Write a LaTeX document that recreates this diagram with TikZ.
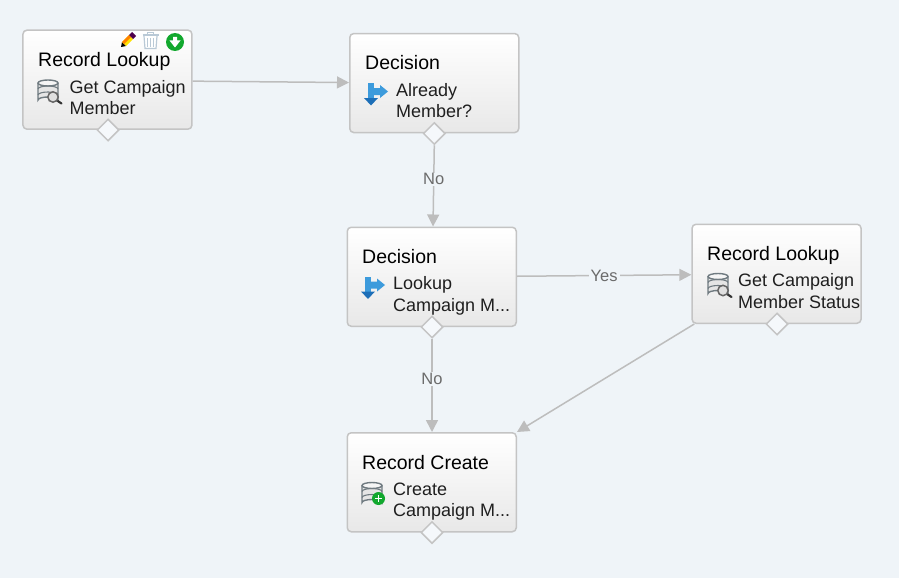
\documentclass[tikz,border=0pt]{standalone}
\usepackage{fontspec}
\setmainfont{Liberation Sans}
\usetikzlibrary{arrows.meta,shapes.geometric,calc}
\definecolor{pagebg}{HTML}{EFF4F8}
\definecolor{edgegray}{HTML}{BDBDBD}
\definecolor{boxline}{HTML}{C4C4C4}
\definecolor{blueA}{HTML}{3D9BDC}
\definecolor{blueB}{HTML}{1D6FB8}
\definecolor{greenA}{HTML}{12A82E}
\definecolor{dbgray}{HTML}{6F7A80}
\definecolor{trashc}{HTML}{B9C9D6}
\tikzset{
  card/.style={draw=boxline,line width=1.5pt,rounded corners=4pt,top color=white,bottom color=black!9,minimum width=169pt,minimum height=99pt,inner sep=0pt,anchor=north west},
  port/.style={diamond,draw=boxline,line width=1.5pt,fill=pagebg!60!white,minimum width=22pt,minimum height=22pt,inner sep=0pt,aspect=1},
  link/.style={draw=edgegray,line width=1.5pt,-{Triangle[length=12pt,width=12pt]}},
  lab/.style={fill=pagebg,text=black!58,font=\fontsize{16.5}{18}\selectfont,inner xsep=2pt,inner ysep=1pt},
  cardhead/.style={anchor=base west,inner sep=0pt,font=\fontsize{19.5}{21}\selectfont},
  cardtext/.style={anchor=base west,inner sep=0pt,font=\fontsize{18}{21}\selectfont,text=black!88},
}
\newcommand{\dbicon}[1]{%
  \begin{scope}[shift={(#1)}]
    \draw[dbgray,line width=1.4pt,fill=black!10] (-10,-8.5) -- (-10,8.5) arc[x radius=10,y radius=3,start angle=180,end angle=360] -- (10,-8.5);
    \draw[dbgray,line width=1.4pt,fill=black!4] (0,-8.5) ellipse[x radius=10,y radius=3];
    \draw[dbgray,line width=1.1pt] (-10,-2.5) arc[x radius=10,y radius=3,start angle=180,end angle=360];
    \draw[dbgray,line width=1.1pt] (-10,3.5) arc[x radius=10,y radius=3,start angle=180,end angle=360];
  \end{scope}}
\newcommand{\lensicon}[1]{%
  \begin{scope}[shift={(#1)}]
    \draw[black!80,line width=2.2pt,line cap=round] (4,3.5) -- (8.5,6.5);
    \draw[black!60,line width=1.5pt,fill=black!12] (0,0) circle[radius=5.2];
  \end{scope}}
\newcommand{\plusicon}[3]{%
  \begin{scope}[shift={(#1)}]
    \fill[greenA] (0,0) circle[radius=#2];
    \draw[white,line width=#3pt] (-.5*#2,0) -- (.5*#2,0) (0,-.5*#2) -- (0,.5*#2);
  \end{scope}}
\newcommand{\splitarrow}[1]{%
  \begin{scope}[shift={(#1)}]
    \fill[blueA] (3,-2) -- (9,-2) -- (9,-5) -- (17,1.5) -- (9,8) -- (9,5) -- (3,5) -- cycle;
    \fill[blueA] (-3,-7) -- (3,-7) -- (3,9) -- (-3,9) -- cycle;
    \fill[blueB] (-7,8) -- (7,8) -- (0,15.5) -- cycle;
  \end{scope}}
\begin{document}
\begin{tikzpicture}[x=1pt,y=-1pt]
\useasboundingbox[fill=pagebg] (0,0) rectangle (899,578);

% cards
\node[card] (lookupA) at (22.2,29.4) {};
\node[card] (decideA) at (349,32.8) {};
\node[card] (decideB) at (346.5,226.5) {};
\node[card] (lookupB) at (691.3,223.5) {};
\node[card] (create)  at (346.5,432) {};

% ports
\node[port] (portA) at (108,130) {};
\node[port] (portB) at (434.3,133.5) {};
\node[port] (portC) at (432,327) {};
\node[port] (portD) at (777,324) {};
\node[port] (portE) at (432,532.5) {};

% headings
\node[cardhead] (h1) at (38,66.5) {Record Lookup};
\node[cardhead] (h2) at (365,70) {Decision};
\node[cardhead] (h3) at (362,263) {Decision};
\node[cardhead] (h4) at (707,260) {Record Lookup};
\node[cardhead] (h5) at (362,469) {Record Create};

% body texts
\node[cardtext] (t1a) at (69.5,93) {Get Campaign};
\node[cardtext] (t1b) at (69.5,114) {Member};
\node[cardtext] (t2a) at (396,96) {Already};
\node[cardtext] (t2b) at (396,117) {Member?};
\node[cardtext] (t3a) at (393,289) {Lookup};
\node[cardtext] (t3b) at (393,311) {Campaign M...};
\node[cardtext] (t4a) at (738,286) {Get Campaign};
\node[cardtext] (t4b) at (738,308) {Member Status};
\node[cardtext] (t5a) at (393,495) {Create};
\node[cardtext] (t5b) at (393,516) {Campaign M...};

% connectors
\draw[link] ($(lookupA.east)+(0,1.5)$) -- ($(decideA.west)+(0,-0.5)$);
\draw[link] (portB.south) -- node[lab,pos=.42] (no1) {No} (decideB.north -| 433,0);
\draw[link] ($(decideB.east)+(0,-.5)$) -- node[lab,pos=.5] (yes) {Yes} ($(lookupB.west)+(0,1)$);
\draw[link] (portC.south) -- node[lab,pos=.43] (no2) {No} (create.north -| portC);
\draw[link] ($(lookupB.south west)+(3,0)$) -- (create.north east);

% toolbar on the first card
\fill[black] (121,47) -- (122,42) -- (126,46) -- cycle;
\fill[yellow!85!orange] (122,42) -- (126,46) -- (133,39) -- (129,35) -- cycle;
\fill[orange] (122,42) -- (124,44) -- (131,37) -- (129,35) -- cycle;
\fill[violet!60!black] (129,35) -- (133,39) -- (136,36) -- (132,32) -- cycle;
\begin{scope}[shift={(150.5,41)}]
  \draw[trashc,line width=1.2pt,fill=white] (-6.5,-5) -- (-5.5,7.5) -- (5.5,7.5) -- (6.5,-5);
  \draw[trashc,line width=2pt] (-8,-6) -- (8,-6);
  \draw[trashc,line width=1pt] (-2.7,-3) -- (-2.7,6) (0,-3) -- (0,6) (2.7,-3) -- (2.7,6);
  \draw[trashc,line width=1pt] (-3,-6.5) -- (-3,-8) -- (3,-8) -- (3,-6.5);
\end{scope}
\begin{scope}[shift={(175,42)}]
  \fill[greenA] (0,0) circle[radius=9];
  \fill[white] (-2,-5) -- (2,-5) -- (2,-1.5) -- (5.5,-1.5) -- (0,5.5) -- (-5.5,-1.5) -- (-2,-1.5) -- cycle;
\end{scope}

% icons in the cards
\dbicon{48,91.5}\lensicon{53,97}
\dbicon{718,285}\lensicon{723,290.5}
\splitarrow{371,90}
\splitarrow{368,283.5}
\dbicon{372,494}\plusicon{378.5,498.5}{6.5}{1.6}
\end{tikzpicture}
\end{document}
